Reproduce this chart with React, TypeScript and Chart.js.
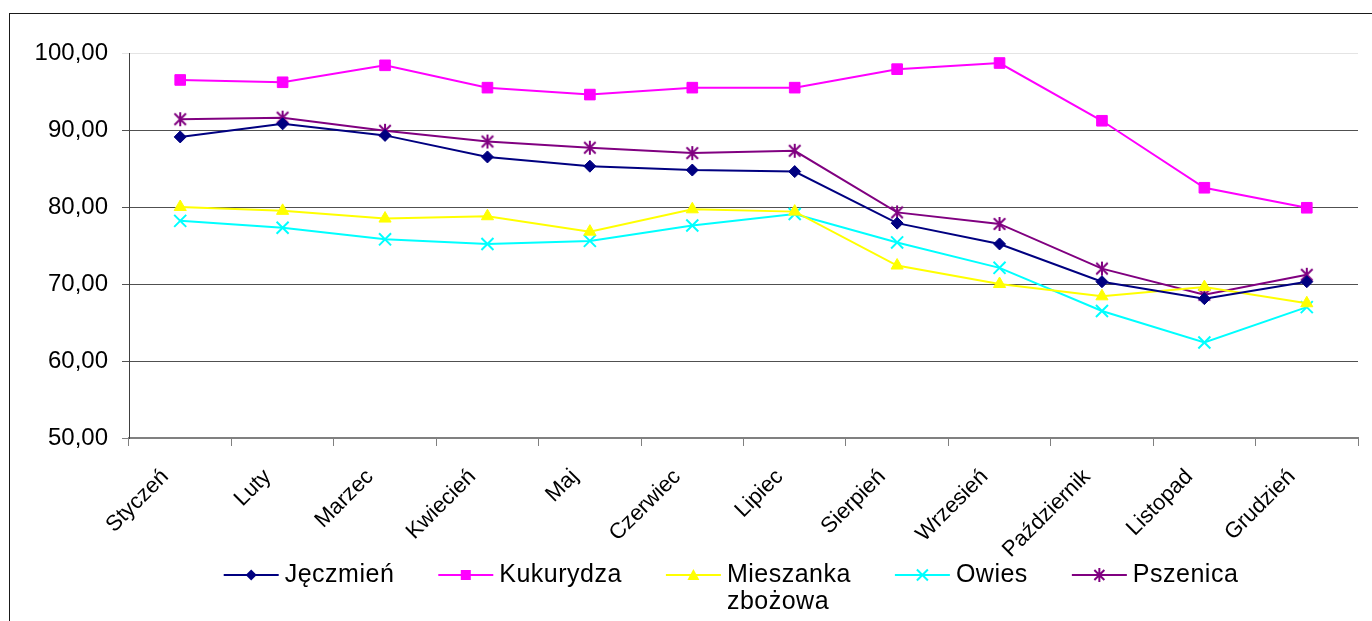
import React, { useEffect, useRef } from 'react';
import { Chart, registerables } from 'chart.js';

Chart.register(...registerables);

const months = ['Styczeń', 'Luty', 'Marzec', 'Kwiecień', 'Maj', 'Czerwiec', 'Lipiec', 'Sierpień', 'Wrzesień', 'Październik', 'Listopad', 'Grudzień'];
const seriesNames = ['Jęczmień', 'Kukurydza', 'Mieszanka zbożowa', 'Owies', 'Pszenica'];
const jeczmien = [89.1, 90.8, 89.3, 86.5, 85.3, 84.8, 84.6, 77.9, 75.2, 70.3, 68.1, 70.3];
const kukurydza = [96.5, 96.2, 98.4, 95.5, 94.6, 95.5, 95.5, 97.9, 98.7, 91.2, 82.5, 79.9];
const mieszanka = [80.0, 79.5, 78.5, 78.8, 76.8, 79.7, 79.4, 72.4, 70.0, 68.4, 69.6, 67.5];
const owies = [78.2, 77.3, 75.8, 75.2, 75.6, 77.6, 79.1, 75.4, 72.1, 66.5, 62.4, 67.0];
const pszenica = [91.4, 91.6, 89.9, 88.5, 87.7, 87.0, 87.3, 79.3, 77.8, 72.0, 68.6, 71.2];
const yMin = 50;
const yMax = 100;
const yStep = 10;

const seriesColors = ['#000080', '#FF00FF', '#FFFF00', '#00FFFF', '#800080'];
const seriesMarkers = ['rectRot', 'rect', 'triangle', 'crossRot', 'asterisk'];

const FONT = '"Liberation Sans", Arial, sans-serif';
const LEGEND_FONT_SIZE = 25;
const LEGEND_Y = 575;
const LEGEND_CX = 731;
const LEGEND_LINE_H = 27;

function makeAsterisk(color: string, size: number): HTMLCanvasElement {
  const c = document.createElement('canvas');
  c.width = size;
  c.height = size;
  const g = c.getContext('2d')!;
  g.strokeStyle = color;
  g.lineWidth = 2;
  const m = size / 2;
  const d = size * 0.36;
  g.beginPath();
  g.moveTo(m, 1);
  g.lineTo(m, size - 1);
  g.moveTo(m - d, m - d);
  g.lineTo(m + d, m + d);
  g.moveTo(m + d, m - d);
  g.lineTo(m - d, m + d);
  g.stroke();
  return c;
}

function drawMarker(ctx: CanvasRenderingContext2D, style: string, x: number, y: number, color: string) {
  ctx.save();
  ctx.fillStyle = color;
  ctx.strokeStyle = color;
  ctx.lineWidth = 1;
  ctx.beginPath();
  if (style === 'rectRot') {
    const r = 5.5;
    ctx.moveTo(x, y - r);
    ctx.lineTo(x + r, y);
    ctx.lineTo(x, y + r);
    ctx.lineTo(x - r, y);
    ctx.closePath();
    ctx.fill();
  } else if (style === 'rect') {
    const s = 5;
    ctx.rect(x - s, y - s, 2 * s, 2 * s);
    ctx.fill();
  } else if (style === 'triangle') {
    ctx.moveTo(x, y - 6);
    ctx.lineTo(x + 6, y + 5);
    ctx.lineTo(x - 6, y + 5);
    ctx.closePath();
    ctx.fill();
  } else if (style === 'crossRot') {
    ctx.lineWidth = 2;
    const d = 5.5;
    ctx.moveTo(x - d, y - d);
    ctx.lineTo(x + d, y + d);
    ctx.moveTo(x + d, y - d);
    ctx.lineTo(x - d, y + d);
    ctx.stroke();
  } else {
    ctx.lineWidth = 2;
    const d = 5;
    ctx.moveTo(x, y - 7);
    ctx.lineTo(x, y + 7);
    ctx.moveTo(x - d, y - d);
    ctx.lineTo(x + d, y + d);
    ctx.moveTo(x + d, y - d);
    ctx.lineTo(x - d, y + d);
    ctx.stroke();
  }
  ctx.restore();
}

const framePlugin = {
  id: 'frame',
  beforeDraw(chart: any) {
    const ctx = chart.ctx as CanvasRenderingContext2D;
    ctx.save();
    ctx.fillStyle = '#ffffff';
    ctx.fillRect(0, 0, chart.width, chart.height);
    ctx.strokeStyle = '#1a1a1a';
    ctx.lineWidth = 1;
    ctx.strokeRect(9.5, 13.5, chart.width + 20, chart.height + 20);
    ctx.restore();
  },
};

const legendPlugin = {
  id: 'xlLegend',
  afterDraw(chart: any) {
    const ctx = chart.ctx as any;
    ctx.save();
    ctx.font = `${LEGEND_FONT_SIZE}px ${FONT}`;
    if ('letterSpacing' in ctx) ctx.letterSpacing = '0.5px';
    ctx.textBaseline = 'middle';
    ctx.textAlign = 'left';
    const items = chart.data.datasets.map((ds: any, i: number) => {
      const label = String(ds.label);
      const lines = ctx.measureText(label).width > 160 ? label.split(' ') : [label];
      const w = Math.max(...lines.map((l: string) => ctx.measureText(l).width));
      return { lines, w, color: seriesColors[i], marker: seriesMarkers[i] };
    });
    const symW = 55;
    const gapT = 6;
    const gapI = 44;
    const total = items.reduce((s: number, it: any) => s + symW + gapT + it.w, 0) + gapI * (items.length - 1);
    let x = LEGEND_CX - total / 2;
    const y = LEGEND_Y;
    items.forEach((it: any) => {
      ctx.strokeStyle = it.color;
      ctx.lineWidth = 2;
      ctx.beginPath();
      ctx.moveTo(x, y);
      ctx.lineTo(x + symW, y);
      ctx.stroke();
      drawMarker(ctx, it.marker, x + symW / 2, y, it.color);
      ctx.fillStyle = '#000000';
      it.lines.forEach((l: string, li: number) => {
        ctx.fillText(l, x + symW + gapT, y + li * LEGEND_LINE_H);
      });
      x += symW + gapT + it.w + gapI;
    });
    ctx.restore();
  },
};

export default function App() {
  const canvasRef = useRef<HTMLCanvasElement | null>(null);

  useEffect(() => {
    if (!canvasRef.current) return;
    Chart.defaults.font.family = FONT;
    const asterisk = makeAsterisk('#800080', 16);
    const values = [jeczmien, kukurydza, mieszanka, owies, pszenica];
    const pointStyles: any[] = ['rectRot', 'rect', 'triangle', 'crossRot', asterisk];
    const radii = [6, 7.5, 7, 8.5, 8];
    const datasets = values.map((data, i) => ({
      label: seriesNames[i],
      data,
      borderColor: seriesColors[i],
      backgroundColor: seriesColors[i],
      borderWidth: 2,
      pointStyle: pointStyles[i],
      pointRadius: radii[i],
      pointBorderWidth: i === 3 ? 2 : 1,
      pointBackgroundColor: seriesColors[i],
      pointBorderColor: seriesColors[i],
      tension: 0,
      fill: false,
    }));

    const chart = new Chart(canvasRef.current, {
      type: 'line',
      data: { labels: months, datasets },
      options: {
        animation: false,
        responsive: false,
        devicePixelRatio: 1,
        layout: { padding: { top: 53, right: 14, bottom: 0, left: 0 } },
        plugins: {
          legend: { display: false },
          tooltip: { enabled: false },
        },
        scales: {
          x: {
            offset: true,
            grid: {
              offset: true,
              drawOnChartArea: false,
              drawTicks: true,
              tickLength: 8,
              color: '#808080',
            },
            border: { color: '#808080', width: 2 },
            ticks: {
              autoSkip: false,
              minRotation: 45,
              maxRotation: 45,
              padding: 18,
              labelOffset: -15,
              color: '#000000',
              font: { size: 22, family: FONT },
            },
            afterFit: (s: any) => {
              s.height = 183;
            },
          },
          y: {
            min: yMin,
            max: yMax,
            ticks: {
              stepSize: yStep,
              padding: 14,
              color: '#000000',
              font: { size: 24, family: FONT },
              callback: (v: any) => Number(v).toFixed(2).replace('.', ','),
            },
            grid: {
              tickLength: 7,
              color: (c: any) => (c.tick && c.tick.value === yMax ? '#e4e4e4' : c.tick && c.tick.value === yMin ? '#808080' : '#505050'),
            },
            border: { color: '#404040', width: 1 },
            afterFit: (s: any) => {
              s.width = 129;
            },
          },
        },
      },
      plugins: [framePlugin, legendPlugin],
    });
    return () => chart.destroy();
  }, []);

  return (
    <div style={{ position: 'fixed', left: 0, top: 0, width: 1372, height: 621, background: '#fff' }}>
      <canvas ref={canvasRef} width={1372} height={621} style={{ display: 'block', width: 1372, height: 621 }} />
    </div>
  );
}
